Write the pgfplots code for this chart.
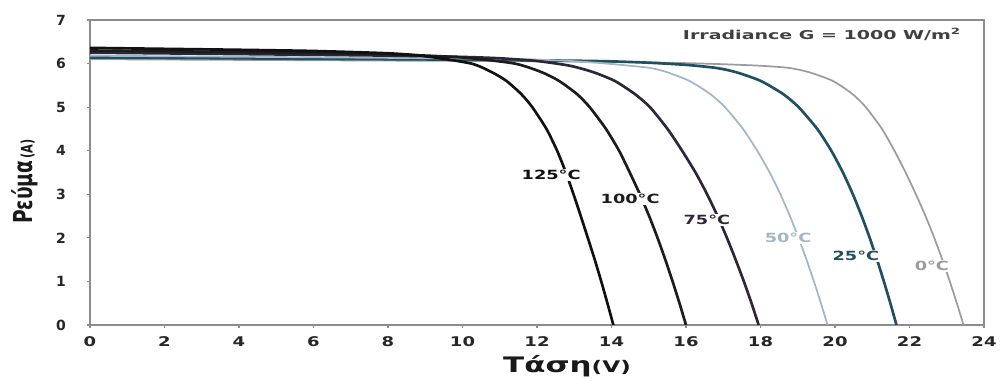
\documentclass[border=0pt]{standalone}
\usepackage{fontspec}
\setmainfont{DejaVu Sans}
\usepackage{graphicx}
\usepackage{pgfplots}
\pgfplotsset{compat=1.18}
\definecolor{cA}{HTML}{111111}
\definecolor{cB}{HTML}{1C1C1C}
\definecolor{cC}{HTML}{2E2638}
\definecolor{cD}{HTML}{A3B6C6}
\definecolor{cE}{HTML}{1E4F62}
\definecolor{cF}{HTML}{9C9C9C}
\definecolor{frame}{HTML}{8C8C8C}
\begin{document}
\begin{tikzpicture}
\useasboundingbox (-67.5pt,-42pt) rectangle (684pt,243.75pt);
\begin{axis}[
  at={(0,0)}, anchor=south west,
  width=670.5pt, height=228.75pt, scale only axis,
  xmin=0, xmax=24, ymin=0, ymax=7,
  xtick={0,2,...,24}, ytick={0,1,...,7},
  xtick pos=bottom, ytick pos=left,
  tick align=outside, major tick length=2.5pt,
  tick style={color=frame, line width=0.8pt},
  axis line style={color=frame, line width=1.2pt},
  /pgf/number format/assume math mode=true,
  tick label style={font=\bfseries\fontsize{10}{11}\selectfont, text=black!85},
  xticklabel style={xscale=1.35, yshift=-3pt},
  yticklabel style={font=\bfseries\fontsize{10.5}{11}\selectfont, anchor=east},
  yticklabel={\pgfmathprintnumber{\tick}\rule{12pt}{0pt}},
  xlabel={\bfseries{\fontsize{16}{17}\selectfont Τάση}{\fontsize{12}{13}\selectfont (V)}},
  xlabel style={at={(rel axis cs:0.5336,-0.1344)}, anchor=center, xscale=1.45, text=black!90},
  ylabel={\scalebox{1}[1.4]{\bfseries{\fontsize{14}{15}\selectfont Ρεύμα}\,{\fontsize{8.5}{9}\selectfont (A)}}},
  ylabel style={at={(rel axis cs:-0.0727,0.47)}, anchor=center, text=black!90},
  every axis plot/.append style={smooth, tension=0.4},
]
% 0 C
\addplot[cF, line width=1.3pt] coordinates {
(0,6.10) (5,6.08) (10,6.06) (14,6.039) (16,6.01) (17,5.985) (18.0,5.95) (18.769,5.9)
(19.309,5.8) (19.944,5.6) (20.469,5.3) (20.826,5.0) (21.261,4.5) (21.595,4.0) (21.895,3.5)
(22.171,3.0) (22.43,2.5) (22.665,2.0) (22.881,1.5) (23.082,1.0) (23.271,0.5) (23.45,0)};
% 25 C
\addplot[cE, line width=2pt] coordinates {
(0,6.14) (5,6.115) (10,6.09) (13,6.065) (14,6.05) (15,6.02) (16,5.97) (16.811,5.9)
(17.354,5.8) (18.011,5.6) (18.608,5.3) (19.022,5.0) (19.523,4.5) (19.901,4.0) (20.212,3.5)
(20.479,3.0) (20.716,2.5) (20.931,2.0) (21.128,1.5) (21.312,1.0) (21.485,0.5) (21.65,0)};
% 50 C
\addplot[cD, line width=1.3pt] coordinates {
(0,6.18) (5,6.15) (10,6.116) (12,6.088) (13,6.055) (14,5.99) (15.032,5.9) (15.496,5.8)
(16.097,5.6) (16.652,5.3) (17.046,5.0) (17.53,4.5) (17.912,4.0) (18.246,3.5) (18.533,3.0)
(18.789,2.5) (19.021,2.0) (19.235,1.5) (19.434,1.0) (19.622,0.5) (19.8,0)};
% 75 C
\addplot[cC, line width=2pt] coordinates {
(0,6.25) (4,6.218) (8,6.183) (10,6.152) (11,6.121) (12,6.059) (12.884,5.95) (13.521,5.8)
(14.091,5.6) (14.628,5.3) (15.032,5.0) (15.504,4.5) (15.895,4.0) (16.255,3.5) (16.567,3.0)
(16.846,2.5) (17.099,2.0) (17.332,1.5) (17.553,1.0) (17.759,0.5) (17.95,0)};
% 100 C
\addplot[cB, line width=2pt] coordinates {
(0,6.30) (4,6.264) (6,6.244) (8,6.215) (10,6.14) (11.402,6.0) (12.132,5.8) (12.595,5.6)
(13.073,5.3) (13.414,5.0) (13.851,4.5) (14.203,4.0) (14.49,3.5) (14.762,3.0) (15.01,2.5)
(15.236,2.0) (15.444,1.5) (15.64,1.0) (15.825,0.5) (16.0,0)};
% 125 C
\addplot[cA, line width=2pt] coordinates {
(0,6.36) (2,6.338) (4,6.316) (6,6.289) (8,6.236) (9,6.17) (10.237,6.0) (10.792,5.8)
(11.182,5.6) (11.577,5.3) (11.873,5.0) (12.254,4.5) (12.54,4.0) (12.775,3.5) (12.98,3.0)
(13.175,2.5) (13.364,2.0) (13.55,1.5) (13.725,1.0) (13.89,0.5) (14.05,0)};
\begin{scope}[every node/.style={fill=white, inner sep=1pt, font=\bfseries\fontsize{9.5}{10}\selectfont, xscale=1.4}]
\node[text=cA] at (axis cs:12.38,3.44) {125°C};
\node[text=cB] at (axis cs:14.50,2.89) {100°C};
\node[text=cC] at (axis cs:16.56,2.41) {75°C};
\node[text=cD] at (axis cs:18.74,2.00) {50°C};
\node[text=cE] at (axis cs:20.56,1.58) {25°C};
\node[text=cF] at (axis cs:22.60,1.35) {0°C};
\end{scope}
\node[anchor=east, inner sep=0pt, font=\bfseries\fontsize{9.2}{10}\selectfont, xscale=1.55, text=black!75] at (rel axis cs:0.975,0.953) {Irradiance G = 1000 W/m\textsuperscript{2}};
\end{axis}
\end{tikzpicture}
\end{document}
